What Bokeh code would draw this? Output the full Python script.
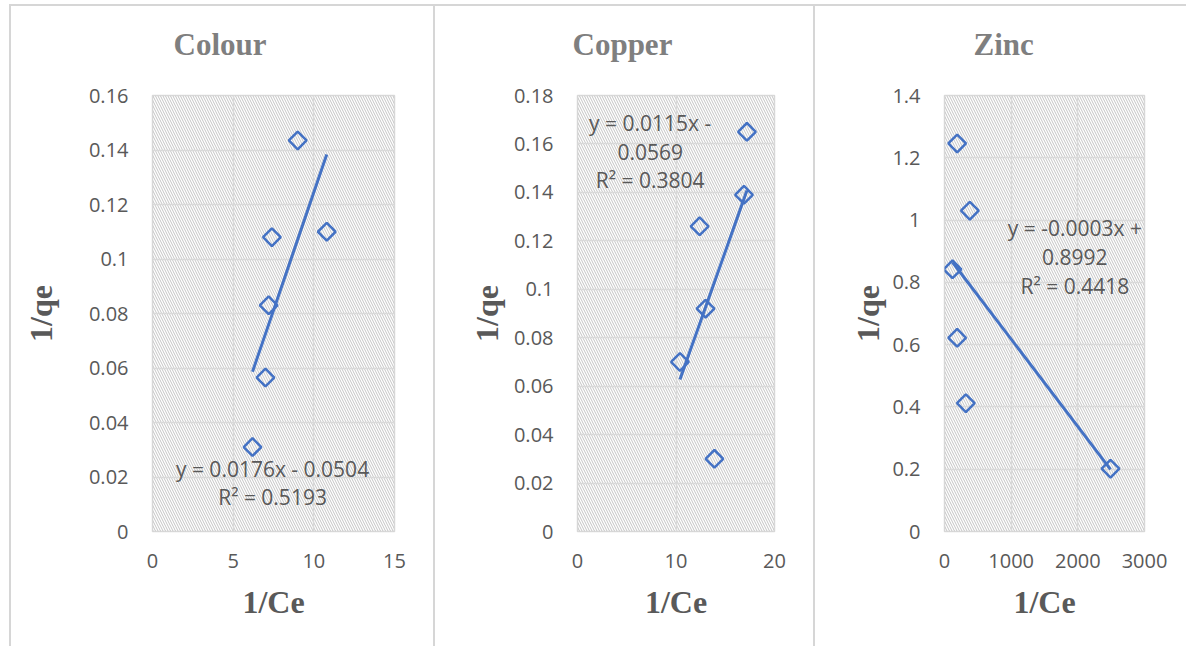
import numpy as np
from bokeh.plotting import figure
from bokeh.models import Range1d, FixedTicker, CustomJSTickFormatter, BoxAnnotation, Label, Title
from bokeh.layouts import row
from bokeh.embed import file_html
from bokeh.resources import INLINE

# ---------------- data ----------------
titles = ["Colour", "Copper", "Zinc"]
x_label = "1/Ce"
y_label = "1/qe"

colour_x = [6.2, 7.0, 7.2, 7.4, 9.0, 10.8]
colour_y = [0.031, 0.0565, 0.083, 0.108, 0.1435, 0.110]
copper_x = [10.4, 13.0, 12.4, 13.9, 16.9, 17.2]
copper_y = [0.070, 0.092, 0.126, 0.030, 0.139, 0.165]
zinc_x = [120, 190, 190, 320, 380, 2490]
zinc_y = [0.842, 1.246, 0.622, 0.412, 1.03, 0.2016]

colour_xticks = [0, 5, 10, 15]
colour_yticks = [0, 0.02, 0.04, 0.06, 0.08, 0.1, 0.12, 0.14, 0.16]
copper_xticks = [0, 10, 20]
copper_yticks = [0, 0.02, 0.04, 0.06, 0.08, 0.1, 0.12, 0.14, 0.16, 0.18]
zinc_xticks = [0, 1000, 2000, 3000]
zinc_yticks = [0, 0.2, 0.4, 0.6, 0.8, 1, 1.2, 1.4]

colour_eq = ["y = 0.0176x - 0.0504", "R\u00b2 = 0.5193"]
copper_eq = ["y = 0.0115x -", "0.0569", "R\u00b2 = 0.3804"]
zinc_eq = ["y = -0.0003x +", "0.8992", "R\u00b2 = 0.4418"]

# ---------------- style ----------------
BLUE = "#4472C4"
GRID = "#d9d9d9"
TXT = "#595959"
TICK_FONT = "Open Sans"
SERIF = "Liberation Serif"
H = 642
FRAME_H = 434
BORDER = "2px solid #d6d6d6"


def panel(title, xs, ys, xticks, yticks, eq, eq_x, eq_y, width, ml, mr,
          axis_standoff, title_offset):
    p = figure(width=width, height=H, output_backend="svg", toolbar_location=None,
               x_range=Range1d(xticks[0], xticks[-1]),
               y_range=Range1d(yticks[0], yticks[-1]),
               min_border_left=ml, min_border_right=mr,
               min_border_top=89, min_border_bottom=H - 89 - FRAME_H - 2,
               background_fill_color="white", border_fill_color="white",
               title=title,
               styles={"border-left": BORDER, "border-top": BORDER,
                       "box-sizing": "border-box"})
    p.title.align = "left"
    p.title.vertical_align = "bottom"
    p.title.offset = title_offset
    p.title.standoff = 0
    p.title.text_font = SERIF
    p.title.text_font_size = "31px"
    p.title.text_font_style = "bold"
    p.title.text_color = "#7f7f7f"
    # thin spacer between the chart title and the plot area
    p.add_layout(Title(text=" ", text_font_size="1px", standoff=31), "above")

    p.outline_line_color = GRID
    p.outline_line_width = 1.5

    # hatched plot area
    p.add_layout(BoxAnnotation(fill_color=None, line_color=None,
                               hatch_pattern="\\", hatch_color="#c4c4c4",
                               hatch_scale=5, hatch_weight=1, level="image"))

    fmt = CustomJSTickFormatter(code="return Number(tick.toFixed(6)).toString();")
    p.xaxis.ticker = FixedTicker(ticks=xticks)
    p.yaxis.ticker = FixedTicker(ticks=yticks)
    for ax in (p.xaxis[0], p.yaxis[0]):
        ax.formatter = fmt
        ax.axis_line_color = None
        ax.major_tick_line_color = None
        ax.minor_tick_line_color = None
        ax.major_tick_out = 0
        ax.major_tick_in = 0
        ax.major_label_text_font = TICK_FONT
        ax.major_label_text_font_size = "20px"
        ax.major_label_text_color = TXT
        ax.axis_label_text_font = SERIF
        ax.axis_label_text_font_size = "32px"
        ax.axis_label_text_font_style = "bold"
        ax.axis_label_text_color = TXT
    p.xaxis.axis_label = x_label
    p.yaxis.axis_label = y_label
    p.xaxis.major_label_standoff = 22
    p.xaxis.axis_label_standoff = 13
    p.yaxis.major_label_standoff = 24
    p.yaxis.axis_label_standoff = axis_standoff

    p.grid.grid_line_color = GRID
    p.grid.grid_line_width = 1.5

    # linear trendline (least squares over the data)
    slope, icpt = np.polyfit(xs, ys, 1)
    tx = [min(xs), max(xs)]
    ty = [slope * v + icpt for v in tx]
    p.line(tx, ty, line_color=BLUE, line_width=3)

    p.scatter(xs, ys, marker="square", angle=np.pi / 4, size=12.5,
              fill_color=None, line_color=BLUE, line_width=2.5)

    for txt, yy in zip(eq, eq_y):
        p.add_layout(Label(x=eq_x, y=yy, text=txt, text_align="center",
                           text_baseline="middle", text_font=TICK_FONT,
                           text_font_size="21px", text_color=TXT))
    return p


p1 = panel(titles[0], colour_x, colour_y, colour_xticks, colour_yticks,
           colour_eq, 7.44, [0.0229, 0.0125], 424, 141, 41, 27, 21)
p2 = panel(titles[1], copper_x, copper_y, copper_xticks, copper_yticks,
           copper_eq, 7.38, [0.1685, 0.1567, 0.145], 380, 142, 41, 6, -5)
p3 = panel(titles[2], zinc_x, zinc_y, zinc_xticks, zinc_yticks,
           zinc_eq, 1955, [0.974, 0.8827, 0.789], 373, 129, 44, 3, 29)

layout = row(p1, p2, p3, styles={"margin-top": "4px", "margin-left": "9px"})

open("out.html", "w").write(file_html(layout, INLINE))
